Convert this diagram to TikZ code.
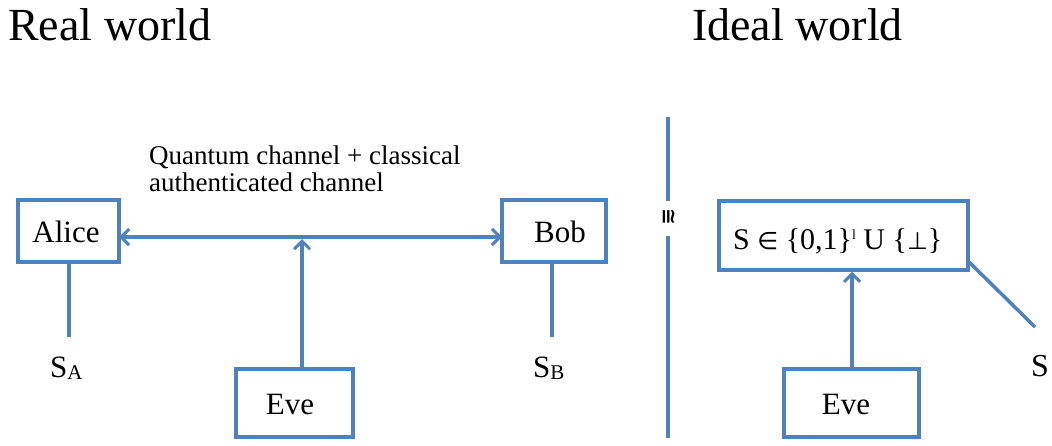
\documentclass[tikz,border=0pt]{standalone}
\usepackage{fontspec}
\setmainfont{Liberation Serif}
\newfontfamily\symf{DejaVu Sans}
\usetikzlibrary{arrows.meta}
\definecolor{lineblue}{RGB}{79,129,189}
\tikzset{
  box/.style={draw=lineblue, line width=3.5pt, rectangle, inner sep=0pt},
  conn/.style={draw=lineblue, line width=3.5pt},
  arr/.style={conn, -{Straight Barb[length=8pt,width=16pt,line width=3pt]}},
  darr/.style={conn, {Straight Barb[length=8pt,width=16pt,line width=3pt]}-{Straight Barb[length=8pt,width=16pt,line width=3pt]}},
  lbl/.style={inner sep=0pt, font=\fontsize{31}{32}\selectfont},
}
\begin{document}
\begin{tikzpicture}[x=1pt,y=-1pt]
\useasboundingbox (0,0) rectangle (1052,445);
% titles
\node[anchor=base west, inner sep=0pt, font=\fontsize{46}{50}\selectfont] (t1) at (8,40) {Real world};
\node[anchor=base west, inner sep=0pt, font=\fontsize{46}{50}\selectfont] (t2) at (692,40) {Ideal world};
% real world
\node[box, minimum width=101pt, minimum height=62pt] (alice) at (68.5,231) {};
\node[lbl, anchor=base] (alicet) at (66,242) {Alice};
\node[box, minimum width=104pt, minimum height=62pt] (bob) at (554,231) {};
\node[lbl, anchor=base] (bobt) at (560,242) {Bob};
\node[anchor=north west, align=left, inner sep=0pt, font=\fontsize{27}{27}\selectfont] (chan) at (149,146) {Quantum channel + classical\\authenticated channel};
\coordinate (al) at (119,237);
\coordinate (bl) at (502,237);
\draw[darr] (al) -- (bl);
\node[box, minimum width=117pt, minimum height=68pt] (eve) at (294.5,403) {};
\node[lbl, anchor=base] (evet) at (290,414) {Eve};
\coordinate (evetop) at (302,369);
\coordinate (evehit) at (302,239);
\draw[arr] (evetop) -- (evehit);
\coordinate (aend) at (69,337);
\draw[conn] (alice.south -| aend) -- (aend);
\coordinate (bend) at (552,337);
\draw[conn] (bob.south -| bend) -- (bend);
\node[anchor=base west, inner sep=0pt, font=\fontsize{31}{32}\selectfont] (sa) at (50,377) {S\raisebox{-2pt}{\fontsize{21}{21}\selectfont A}};
\node[anchor=base west, inner sep=0pt, font=\fontsize{31}{32}\selectfont] (sb) at (533,377) {S\raisebox{-2pt}{\fontsize{21}{21}\selectfont B}};
% separator
\coordinate (s1) at (668,117);
\coordinate (s2) at (668,201);
\coordinate (s3) at (668,236);
\coordinate (s4) at (668,438);
\draw[conn] (s1) -- (s2);
\draw[conn] (s3) -- (s4);
\node[rotate=-90, inner sep=0pt, font=\symf\bfseries\fontsize{20}{20}\selectfont] (cong) at (669,217) {≅};
% ideal world
\node[box, minimum width=249pt, minimum height=69pt] (ideal) at (843.5,235.5) {};
\node[anchor=base west, inner sep=0pt, font=\fontsize{30}{30}\selectfont] (idealt) at (733,249) {S {\symf\fontsize{24}{24}\selectfont ∈} \{0,1\}\raisebox{10pt}{\fontsize{14}{14}\selectfont l} U \{{\symf\fontsize{24}{24}\selectfont ⊥}\}};
\node[box, minimum width=135pt, minimum height=68pt] (eve2) at (851.5,403) {};
\node[lbl, anchor=base] (eve2t) at (846,414) {Eve};
\coordinate (e2x) at (852,0);
\draw[arr] (eve2.north -| e2x) -- (ideal.south -| e2x);
\coordinate (dstart) at (968,261);
\coordinate (dend) at (1035,327);
\draw[conn] (dstart) -- (dend);
\node[anchor=base west, inner sep=0pt, font=\fontsize{32}{32}\selectfont] (s) at (1031,376) {S};
\end{tikzpicture}
\end{document}
